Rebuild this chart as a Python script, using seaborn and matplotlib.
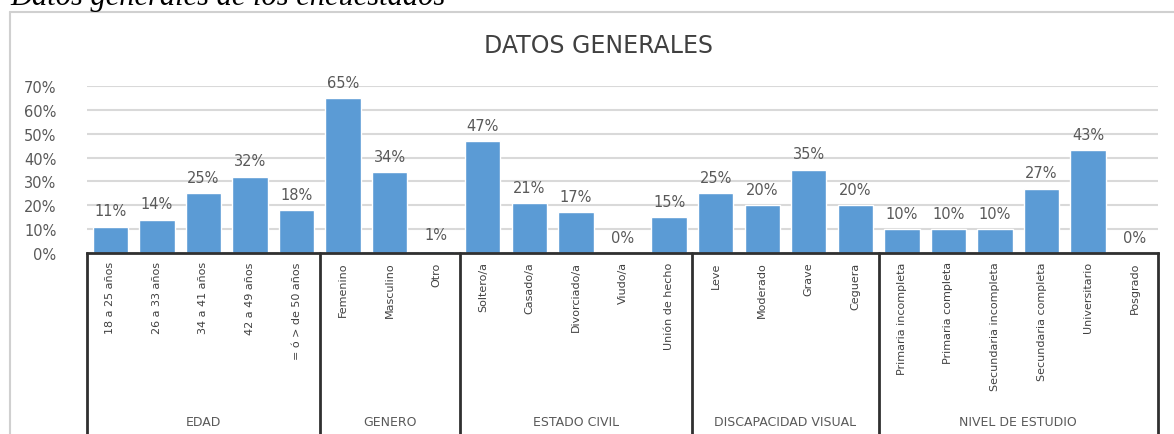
import matplotlib
matplotlib.use("Agg")
import matplotlib.pyplot as plt
import matplotlib.transforms as mtransforms
from matplotlib.lines import Line2D
import seaborn as sns
import pandas as pd

# datos
grupos = ["EDAD", "GENERO", "ESTADO CIVIL", "DISCAPACIDAD VISUAL", "NIVEL DE ESTUDIO"]
edad = ["18 a 25 años", "26 a 33 años", "34 a 41 años", "42 a 49 años", "= ó > de 50 años"]
edad_val = [11, 14, 25, 32, 18]
genero = ["Femenino", "Masculino", "Otro"]
genero_val = [65, 34, 1]
civil = ["Soltero/a", "Casado/a", "Divorciado/a", "Viudo/a", "Unión de hecho"]
civil_val = [47, 21, 17, 0, 15]
discapacidad = ["Leve", "Moderado", "Grave", "Ceguera"]
discapacidad_val = [25, 20, 35, 20]
estudio = ["Primaria incompleta", "Primaria completa", "Secundaria incompleta",
           "Secundaria completa", "Universitario", "Posgrado"]
estudio_val = [10, 10, 10, 27, 43, 0]
y_ticks = [0, 10, 20, 30, 40, 50, 60, 70]

cats_por_grupo = [edad, genero, civil, discapacidad, estudio]
vals_por_grupo = [edad_val, genero_val, civil_val, discapacidad_val, estudio_val]

rows = []
for g, cs, vs in zip(grupos, cats_por_grupo, vals_por_grupo):
    for c, v in zip(cs, vs):
        rows.append({"grupo": g, "categoria": c, "valor": v / 100})
df = pd.DataFrame(rows)

sns.set_style("white")
plt.rcParams['font.family'] = ['DejaVu Sans']

GRIS = "#595959"
AZUL = "#5B9BD5"

fig = plt.figure(figsize=(11.74, 4.35), dpi=100)
ax = fig.add_axes([87 / 1174, (435 - 254) / 435, (1158 - 87) / 1174, (254 - 87) / 435])

sns.barplot(data=df, x="categoria", y="valor", color=AZUL, saturation=1,
            width=0.76, ax=ax, zorder=3)

n = len(df)
ax.set_xlim(-0.5, n - 0.5)
ax.set_ylim(0, 0.70)
ax.set_yticks([t / 100 for t in y_ticks])
ax.set_yticklabels([f"{t}%" for t in y_ticks], fontsize=10.5, color=GRIS)
ax.tick_params(axis="y", length=0, pad=22)
ax.tick_params(axis="x", length=0, pad=6)
ax.set_xticks(range(n))
ax.set_xticklabels(df["categoria"], rotation=90, fontsize=8, color="#404040", va="top")
ax.set_xlabel("")
ax.set_ylabel("")
ax.grid(axis="y", color="#d9d9d9", linewidth=1.5, zorder=0)
for s in ["left", "right", "top"]:
    ax.spines[s].set_visible(False)
ax.spines["bottom"].set_color("#303030")
ax.spines["bottom"].set_linewidth(2)
ax.spines["bottom"].set_zorder(4)

ax.bar_label(ax.containers[0], labels=[f"{round(v * 100)}%" for v in df["valor"]],
             padding=6, fontsize=10.5, color=GRIS)

# separadores y nombres de grupo bajo el eje
trans = mtransforms.blended_transform_factory(ax.transData, fig.transFigure)
y0 = (435 - 254) / 435
inicio = 0
bordes = [-0.5]
for g, cs in zip(grupos, cats_por_grupo):
    fin = inicio + len(cs)
    bordes.append(fin - 0.5)
    ax.text((inicio + fin - 1) / 2, (435 - 423) / 435, g, transform=trans,
            ha="center", va="center", fontsize=9, color=GRIS)
    inicio = fin
for b in bordes:
    ax.add_line(Line2D([b, b], [y0, 0], transform=trans, color="#303030",
                       linewidth=2, clip_on=False))

fig.text(598 / 1174, 1 - 46 / 435, "DATOS GENERALES", ha="center", va="center",
         fontsize=17, color="#404040")

# marco del grafico
fig.add_artist(Line2D([10 / 1174, 10 / 1174], [0, 1 - 13 / 435], transform=fig.transFigure,
                      color="#d0d0d0", linewidth=1.5))
fig.add_artist(Line2D([10 / 1174, 1], [1 - 13 / 435, 1 - 13 / 435], transform=fig.transFigure,
                      color="#d0d0d0", linewidth=1.5))

# leyenda de la figura (cortada arriba, como en el original)
fig.text(10 / 1174, 1 - 5 / 435, "Datos generales de los encuestados", ha="left",
         va="baseline", fontsize=22, style="italic", family="Liberation Serif", color="black")

fig.savefig("out.png", dpi=100)
